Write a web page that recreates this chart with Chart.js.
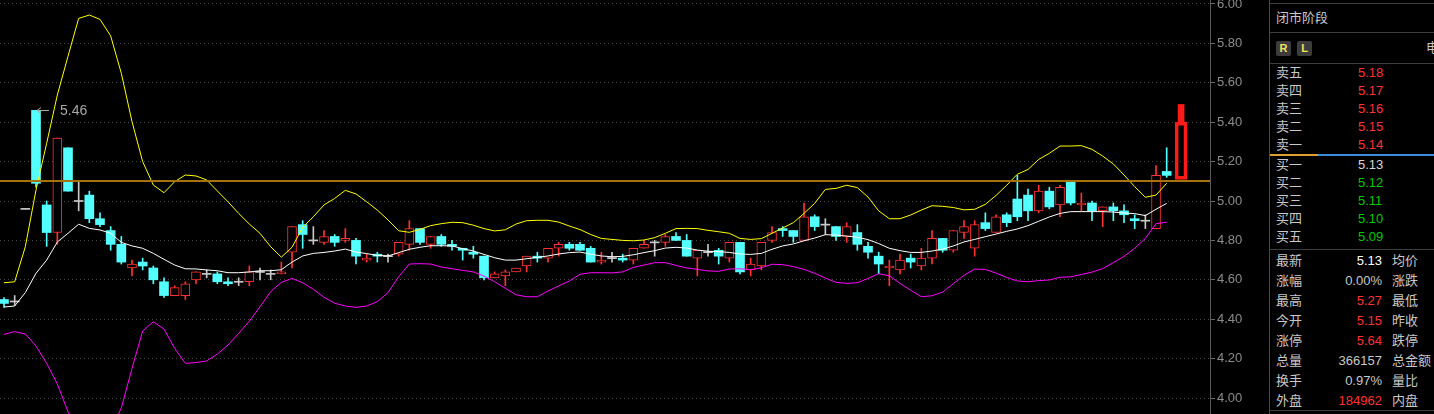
<!DOCTYPE html>
<html>
<head>
<meta charset="utf-8">
<script src="https://cdn.jsdelivr.net/npm/chart.js@4"></script>
<style>
  body { margin: 0; background: #000; width: 1434px; height: 414px; overflow: hidden; position: relative;
         font-family: "Liberation Sans", Arial, "Noto Sans CJK SC", sans-serif; }
  #wrap { position: absolute; left: 0; top: 0; width: 1269px; height: 414px; }
  #panel { position: absolute; left: 1269px; top: 0; width: 165px; height: 414px; border-left: 1px solid #4a4a4a;
           box-sizing: border-box; color: #c8c8c8; font-size: 13px; }
  #panel .row { position: absolute; height: 18px; line-height: 18px; white-space: nowrap; }
  #panel .hl { position: absolute; left: 0; right: 0; height: 1px; background: #3d3d3d; }
  .btn { position: absolute; top: 41px; width: 15px; height: 15px; line-height: 15px; text-align: center;
         background: #3c3c3c; color: #f2e35c; font-size: 11px; font-weight: bold; border-radius: 2px; }
</style>
</head>
<body>
<div id="wrap"><canvas id="kline" width="1269" height="414"></canvas></div>
<div id="panel">
  <div class="hl" style="top:3px"></div>
  <div class="row" style="left:6px;top:9px">闭市阶段</div>
  <div class="hl" style="top:32px"></div>
  <div class="btn" style="left:6px">R</div>
  <div class="btn" style="left:27px">L</div>
  <div class="row" style="left:156px;top:39px">电</div>
  <div class="hl" style="top:63px"></div>
  <div id="book"></div>
  <div style="position:absolute;top:154px;left:0;width:48px;height:2px;background:#e0a030"></div>
  <div style="position:absolute;top:154px;left:48px;right:0;height:2px;background:#3a8ad6"></div>
  <div class="hl" style="top:249px"></div>
  <div id="stats"></div>
  <div class="hl" style="top:410px"></div>
</div>
<script>
// daily candles, oldest first
const opens = [4.50,4.49,4.96,5.46,4.98,4.84,5.27,5.00,5.03,4.91,4.85,4.78,4.66,4.69,4.66,4.59,4.52,4.52,4.60,4.63,
  4.63,4.59,4.59,4.59,4.64,4.63,4.63,4.74,4.88,4.80,4.79,4.82,4.80,4.80,4.70,4.73,4.72,4.73,4.78,4.86,
  4.78,4.82,4.78,4.76,4.74,4.72,4.61,4.62,4.64,4.67,4.72,4.71,4.76,4.78,4.78,4.76,4.69,4.71,4.71,4.70,
  4.76,4.79,4.79,4.82,4.80,4.71,4.74,4.75,4.71,4.79,4.65,4.67,4.80,4.86,4.85,4.80,4.92,4.88,4.87,4.82,
  4.84,4.77,4.72,4.66,4.65,4.71,4.67,4.71,4.81,4.75,4.84,4.76,4.89,4.84,4.93,5.01,5.03,4.95,5.05,4.98,
  5.10,4.98,4.99,4.95,4.97,4.95,4.91,4.90,4.86,5.15];
const highs = [4.51,4.52,4.96,5.46,5.00,5.32,5.27,5.10,5.05,4.94,4.87,4.82,4.70,4.71,4.67,4.61,4.57,4.59,4.64,4.65,
  4.64,4.61,4.61,4.67,4.66,4.65,4.69,4.87,4.90,4.87,4.85,4.83,4.86,4.81,4.73,4.74,4.73,4.79,4.90,4.86,
  4.82,4.83,4.80,4.76,4.77,4.72,4.64,4.65,4.66,4.72,4.74,4.76,4.79,4.79,4.79,4.77,4.74,4.74,4.73,4.76,
  4.80,4.80,4.83,4.84,4.83,4.75,4.78,4.76,4.79,4.79,4.71,4.79,4.87,4.87,4.85,4.99,4.93,4.91,4.87,4.89,
  4.88,4.79,4.74,4.70,4.73,4.73,4.76,4.85,4.81,4.85,4.90,4.90,4.94,4.93,4.94,5.13,5.06,5.08,5.07,5.08,
  5.10,5.04,5.00,4.97,4.99,4.98,4.93,4.93,5.18,5.27];
const lows = [4.46,4.47,4.96,5.07,4.77,4.78,5.05,4.95,4.89,4.87,4.75,4.68,4.62,4.65,4.58,4.51,4.52,4.50,4.58,4.61,
  4.58,4.57,4.57,4.57,4.60,4.60,4.63,4.66,4.76,4.78,4.78,4.77,4.79,4.68,4.69,4.69,4.69,4.72,4.75,4.78,
  4.76,4.77,4.75,4.70,4.71,4.60,4.61,4.57,4.64,4.64,4.69,4.69,4.72,4.75,4.75,4.69,4.68,4.69,4.69,4.68,
  4.76,4.72,4.77,4.80,4.72,4.62,4.72,4.68,4.69,4.63,4.62,4.65,4.79,4.82,4.79,4.80,4.85,4.83,4.80,4.79,
  4.75,4.71,4.63,4.57,4.63,4.66,4.65,4.68,4.74,4.74,4.81,4.72,4.85,4.84,4.87,4.90,4.90,4.94,4.96,4.92,
  4.98,4.95,4.90,4.87,4.90,4.89,4.86,4.86,4.86,5.12];
const closes = [4.48,4.49,4.96,5.09,4.84,5.32,5.05,5.00,4.91,4.88,4.78,4.69,4.68,4.67,4.60,4.52,4.56,4.58,4.64,4.63,
  4.59,4.58,4.59,4.64,4.64,4.63,4.64,4.87,4.83,4.80,4.82,4.79,4.81,4.72,4.71,4.72,4.72,4.79,4.86,4.79,
  4.82,4.78,4.77,4.75,4.73,4.61,4.63,4.64,4.66,4.72,4.71,4.76,4.78,4.76,4.75,4.69,4.70,4.71,4.70,4.76,
  4.78,4.79,4.82,4.80,4.72,4.75,4.74,4.72,4.79,4.64,4.68,4.79,4.84,4.85,4.82,4.92,4.87,4.88,4.82,4.87,
  4.78,4.74,4.68,4.67,4.70,4.69,4.71,4.81,4.75,4.85,4.87,4.88,4.86,4.92,4.89,4.92,4.95,5.05,4.97,5.07,
  4.99,4.99,4.95,4.97,4.95,4.93,4.90,4.90,5.13,5.13];

// bollinger bands
const bollMid = [4.462,4.467,4.535,4.633,4.700,4.792,4.836,4.882,4.861,4.853,4.836,4.790,4.772,4.760,4.734,4.704,4.675,4.656,4.655,4.650,
  4.646,4.636,4.636,4.640,4.646,4.646,4.651,4.690,4.721,4.734,4.739,4.746,4.756,4.741,4.733,4.724,4.721,4.738,4.755,4.765,
  4.773,4.773,4.772,4.758,4.746,4.729,4.712,4.700,4.700,4.707,4.714,4.721,4.731,4.738,4.741,4.730,4.721,4.717,4.719,4.727,
  4.738,4.748,4.761,4.765,4.761,4.751,4.745,4.743,4.739,4.731,4.729,4.734,4.755,4.772,4.782,4.798,4.812,4.829,4.827,4.822,
  4.816,4.804,4.784,4.760,4.748,4.739,4.739,4.746,4.756,4.772,4.792,4.805,4.819,4.832,4.846,4.858,4.875,4.897,4.919,4.937,
  4.946,4.946,4.946,4.946,4.944,4.939,4.936,4.926,4.958,4.988];
const bollUp = [4.585,4.590,4.768,5.056,5.293,5.538,5.735,5.927,5.944,5.922,5.838,5.648,5.403,5.200,5.081,5.042,5.098,5.132,5.127,5.107,
  5.051,4.996,4.937,4.883,4.836,4.768,4.715,4.765,4.866,4.920,4.980,5.013,5.054,5.036,4.996,4.954,4.904,4.849,4.841,4.856,
  4.875,4.885,4.892,4.890,4.877,4.860,4.848,4.854,4.883,4.900,4.902,4.902,4.893,4.873,4.855,4.830,4.810,4.805,4.800,4.798,
  4.802,4.814,4.836,4.860,4.861,4.860,4.851,4.844,4.836,4.810,4.805,4.809,4.836,4.863,4.890,4.937,4.988,5.059,5.064,5.080,
  5.068,5.020,4.950,4.910,4.910,4.929,4.954,4.976,4.973,4.967,4.955,4.958,4.983,5.028,5.080,5.136,5.160,5.211,5.242,5.279,
  5.279,5.281,5.262,5.228,5.188,5.132,5.073,5.019,5.030,5.090];
const bollLow = [4.323,4.337,4.325,4.264,4.176,4.071,3.930,3.837,3.778,3.784,3.834,3.950,4.150,4.340,4.387,4.350,4.252,4.176,4.180,4.188,
  4.223,4.269,4.328,4.390,4.463,4.540,4.587,4.607,4.585,4.552,4.511,4.481,4.467,4.460,4.467,4.489,4.535,4.616,4.680,4.682,
  4.680,4.665,4.656,4.648,4.640,4.619,4.590,4.557,4.524,4.514,4.514,4.543,4.569,4.594,4.628,4.636,4.636,4.635,4.640,4.663,
  4.675,4.687,4.687,4.673,4.660,4.653,4.645,4.643,4.655,4.656,4.651,4.661,4.679,4.677,4.667,4.653,4.633,4.609,4.587,4.582,
  4.585,4.607,4.631,4.620,4.582,4.547,4.514,4.519,4.538,4.580,4.623,4.654,4.653,4.634,4.612,4.594,4.590,4.596,4.599,4.613,
  4.615,4.627,4.639,4.657,4.687,4.719,4.760,4.810,4.885,4.892];

const yTicks = [4.0, 4.2, 4.4, 4.6, 4.8, 5.0, 5.2, 5.4, 5.6, 5.8, 6.0];
const prevCloseLine = 5.10;
const peakIndex = 3;
const peakValue = 5.46;
// live-price marker at the right end
const markerX = 110.35;
const markerBox = [5.11, 5.40];
const markerCap = [5.40, 5.49];

const sellLabels = ["卖五", "卖四", "卖三", "卖二", "卖一"];
const sellPrices = ["5.18", "5.17", "5.16", "5.15", "5.14"];
const buyLabels = ["买一", "买二", "买三", "买四", "买五"];
const buyPrices = ["5.13", "5.12", "5.11", "5.10", "5.09"];
const statLabels = ["最新", "涨幅", "最高", "今开", "涨停", "总量", "换手", "外盘"];
const statValues = ["5.13", "0.00%", "5.27", "5.15", "5.64", "366157", "0.97%", "184962"];
const statLabels2 = ["均价", "涨跌", "最低", "昨收", "跌停", "总金额", "量比", "内盘"];

const RED = "#ff3232", CYAN = "#54ffff", GREY = "#c8c8c8", GREEN = "#00c800";
const statColors = ["#ffffff", GREY, RED, RED, RED, GREY, GREY, RED];

// ---- quote panel ----
function row(parent, left, center, text, color, width, align) {
  const d = document.createElement("div");
  d.className = "row";
  d.style.left = left + "px";
  d.style.top = (center - 9) + "px";
  if (width) { d.style.width = width + "px"; d.style.textAlign = align; }
  if (color) d.style.color = color;
  d.textContent = text;
  parent.appendChild(d);
}
const book = document.getElementById("book");
sellLabels.forEach((l, i) => {
  row(book, 6, 73 + 18 * i, l);
  row(book, 88, 73 + 18 * i, sellPrices[i], RED);
});
buyLabels.forEach((l, i) => {
  row(book, 6, 164.5 + 18 * i, l);
  row(book, 88, 164.5 + 18 * i, buyPrices[i], i === 0 ? "#d8d8d8" : GREEN);
});
const stats = document.getElementById("stats");
statLabels.forEach((l, i) => {
  const c = 261 + 20 * i;
  row(stats, 6, c, l);
  row(stats, 50, c, statValues[i], statColors[i], 62, "right");
  row(stats, 122, c, statLabels2[i]);
});

// ---- chart ----
const n = closes.length;
const kind = closes.map((c, i) => (c > opens[i] ? 1 : c < opens[i] ? -1 : 0));
const candleColor = kind.map((k) => (k > 0 ? RED : k < 0 ? CYAN : GREY));

const bodyData = closes.map((c, i) => ({
  x: i,
  y: c === opens[i] ? [c - 0.0026, c + 0.0026] : [opens[i], c],
}));
const wickData = closes.map((c, i) => ({ x: i, y: [lows[i], highs[i]] }));
const lineData = (arr) => arr.map((v, i) => ({ x: i, y: v }));

const overlay = {
  id: "overlay",
  afterDatasetsDraw(chart) {
    const { ctx, chartArea, scales: { x, y } } = chart;
    // previous close line
    const yl = Math.round(y.getPixelForValue(prevCloseLine));
    ctx.save();
    ctx.strokeStyle = "#a6720e";
    ctx.lineWidth = 2;
    ctx.beginPath();
    ctx.moveTo(chartArea.left, yl);
    ctx.lineTo(chartArea.right, yl);
    ctx.stroke();
    // peak label
    const px = x.getPixelForValue(peakIndex);
    const py = Math.round(y.getPixelForValue(peakValue)) + 0.5;
    ctx.strokeStyle = "#a8a8a8";
    ctx.lineWidth = 1;
    ctx.beginPath();
    ctx.moveTo(px + 1, py);
    ctx.lineTo(px + 13, py);
    ctx.moveTo(px + 1, py);
    ctx.lineTo(px + 5, py - 3);
    ctx.moveTo(px + 1, py);
    ctx.lineTo(px + 5, py + 3);
    ctx.stroke();
    ctx.fillStyle = "#a8a8a8";
    ctx.font = "14px 'Liberation Sans', Arial, sans-serif";
    ctx.textBaseline = "middle";
    ctx.fillText(peakValue.toFixed(2), px + 24, py + 1);
    ctx.restore();
  },
};

new Chart(document.getElementById("kline"), {
  type: "bar",
  data: {
    datasets: [
      { type: "line", data: lineData(bollUp), borderColor: "#ffff00", borderWidth: 1, pointRadius: 0, tension: 0, order: 0 },
      { type: "line", data: lineData(bollMid), borderColor: "#ffffff", borderWidth: 1, pointRadius: 0, tension: 0, order: 0 },
      { type: "line", data: lineData(bollLow), borderColor: "#ff00ff", borderWidth: 1, pointRadius: 0, tension: 0, order: 0 },
      {
        data: bodyData, order: 1, grouped: false, barThickness: 9, borderSkipped: false,
        backgroundColor: kind.map((k) => (k > 0 ? "#000000" : k < 0 ? CYAN : GREY)),
        borderColor: kind.map((k) => (k > 0 ? RED : "rgba(0,0,0,0)")),
        borderWidth: kind.map((k) => (k > 0 ? 1 : 0)),
      },
      { data: wickData, order: 2, grouped: false, barThickness: 1, borderSkipped: false, backgroundColor: candleColor },
      {
        data: [{ x: markerX, y: markerCap }], order: 1, grouped: false, barThickness: 6,
        borderSkipped: false, backgroundColor: "#ff1a1a",
      },
      {
        data: [{ x: markerX, y: markerBox }], order: 1, grouped: false, barThickness: 12,
        borderSkipped: false, backgroundColor: "rgba(0,0,0,0)", borderColor: "#ff1a1a", borderWidth: 3,
      },
    ],
  },
  options: {
    responsive: false,
    animation: false,
    events: [],
    layout: { padding: 0 },
    plugins: { legend: { display: false }, tooltip: { enabled: false } },
    scales: {
      x: { type: "linear", display: false, min: -0.375, max: 113.06, offset: false, grid: { display: false } },
      y: {
        position: "right",
        min: 3.9188,
        max: 6.0203,
        afterBuildTicks: (s) => { s.ticks = yTicks.map((v) => ({ value: v })); },
        afterFit: (s) => { s.paddingTop = 0; s.paddingBottom = 0; s.width = 59; },
        ticks: {
          color: "#8c8c8c",
          padding: 2,
          font: { size: 13, family: "'Liberation Sans', Arial, sans-serif" },
          callback: (v) => Number(v).toFixed(2),
        },
        grid: { color: "#484848", tickLength: 5, tickColor: "#6a6a6a", tickBorderDash: [] },
        border: { color: "#5a5a5a", dash: [1, 3] },
      },
    },
  },
  plugins: [overlay],
});
</script>
</body>
</html>
